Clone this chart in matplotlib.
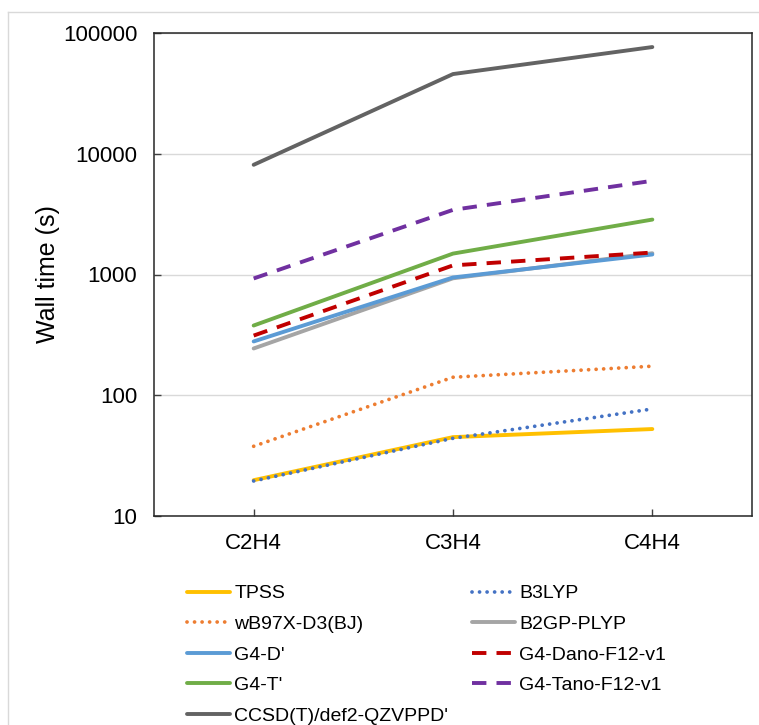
import matplotlib.pyplot as plt
from matplotlib.lines import Line2D

plt.rcParams['font.family'] = ['Liberation Sans', 'DejaVu Sans']

# Datos (tiempos de pared en segundos)
molecules = ['C2H4', 'C3H4', 'C4H4']
tpss = [19.8, 45, 52.5]
b3lyp = [19.5, 44, 77]
wb97x = [37.8, 141, 174]
b2gp = [244, 930, 1500]
g4_d = [279, 945, 1465]
g4_dano = [312, 1190, 1520]
g4_t = [378, 1490, 2850]
g4_tano = [927, 3430, 5970]
ccsd = [8100, 45700, 76500]

names = ['TPSS', 'B3LYP', "wB97X-D3(BJ)", 'B2GP-PLYP', "G4-D'",
         'G4-Dano-F12-v1', "G4-T'", 'G4-Tano-F12-v1', "CCSD(T)/def2-QZVPPD'"]
series = [tpss, b3lyp, wb97x, b2gp, g4_d, g4_dano, g4_t, g4_tano, ccsd]
colors = ['#FFC000', '#4472C4', '#ED7D31', '#A5A5A5', '#5B9BD5',
          '#C00000', '#70AD47', '#7030A0', '#636363']
styles = ['solid', 'dot', 'dot', 'solid', 'solid', 'dash', 'solid', 'dash', 'solid']

fig = plt.figure(figsize=(7.59, 7.25), dpi=100)
ax = fig.add_axes([154/759, 1 - 516/725, 598/759, 483/725])

x = list(range(len(molecules)))
handles = []
for name, vals, c, st in zip(names, series, colors, styles):
    if st == 'dot':
        ln, = ax.plot(x, vals, color=c, lw=2.7, linestyle=(0, (0.01, 2.0)),
                      dash_capstyle='round', label=name)
    elif st == 'dash':
        ln, = ax.plot(x, vals, color=c, lw=2.8, linestyle=(0, (3.7, 2.6)),
                      label=name)
    else:
        ln, = ax.plot(x, vals, color=c, lw=2.8, solid_capstyle='round', label=name)
    handles.append(ln)

ax.set_yscale('log')
ax.set_ylim(10, 100000)
ax.set_xlim(-0.5, 2.5)
ax.set_xticks(x)
ax.set_xticklabels(molecules)
ax.set_yticks([10, 100, 1000, 10000, 100000])
ax.set_yticklabels(['10', '100', '1000', '10000', '100000'])
ax.minorticks_off()
ax.yaxis.grid(True, color='#D9D9D9', lw=1)
ax.set_axisbelow(True)
ax.tick_params(axis='both', direction='in', length=5, width=1, color='#404040',
               labelsize=16, labelcolor='black')
ax.tick_params(axis='y', pad=12)
ax.tick_params(axis='x', pad=12)
for s in ax.spines.values():
    s.set_color('#262626')
    s.set_linewidth(1.1)
ax.set_ylabel('Wall time (s)', fontsize=18, labelpad=2)

# Leyenda en dos columnas (orden por filas)
kw = dict(frameon=False, fontsize=14, loc='upper left', borderpad=0,
          handlelength=2.2, handletextpad=0.25, labelspacing=0.67)
left = [0, 2, 4, 6, 8]
right = [1, 3, 5, 7]
leg1 = fig.legend([handles[i] for i in left], [names[i] for i in left],
                  bbox_to_anchor=(177/759, 1 - 575/725), **kw)
leg2 = fig.legend([handles[i] for i in right], [names[i] for i in right],
                  bbox_to_anchor=(462/759, 1 - 575/725), **kw)

# Marco exterior gris claro
fig.add_artist(Line2D([8/759, 8/759], [0, 1 - 12/725], color='#D9D9D9', lw=1))
fig.add_artist(Line2D([8/759, 1], [1 - 12/725, 1 - 12/725], color='#D9D9D9', lw=1))

fig.savefig('out.png', dpi=100)
